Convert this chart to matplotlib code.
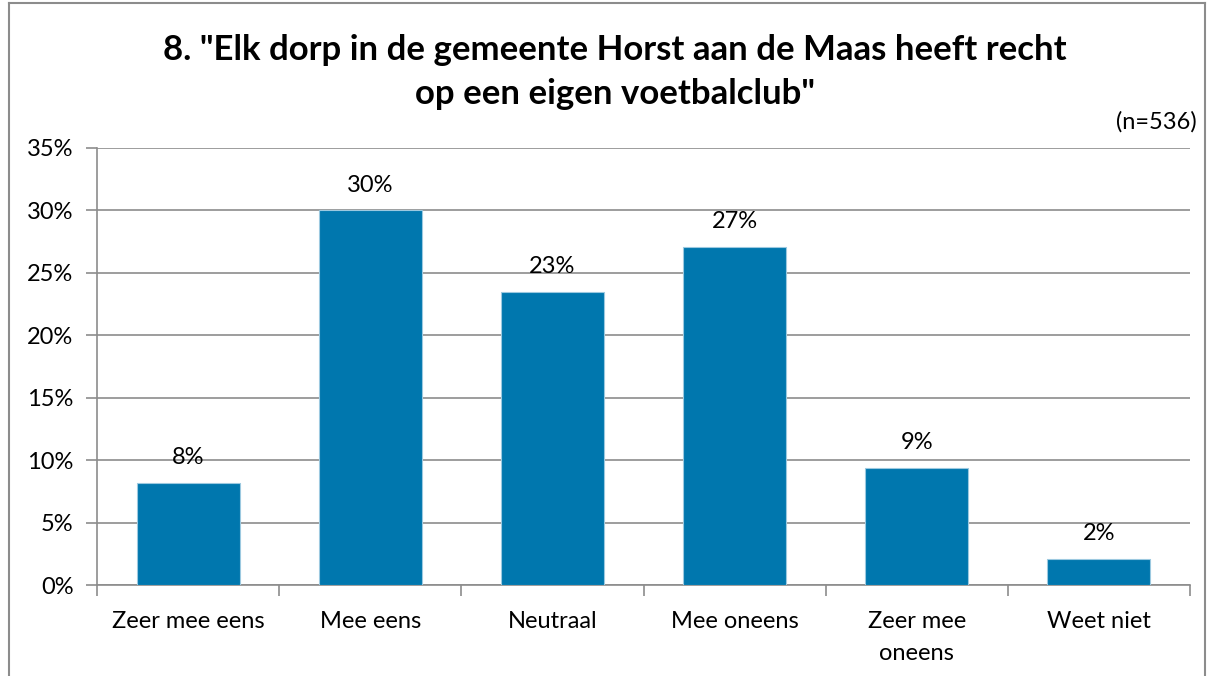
import numpy as np
import matplotlib
matplotlib.use("Agg")
from matplotlib import pyplot as plt
from matplotlib.lines import Line2D

plt.rcParams['font.family'] = ['Lato', 'DejaVu Sans']

categories = ["Zeer mee eens", "Mee eens", "Neutraal", "Mee oneens", "Zeer mee\noneens", "Weet niet"]
values = [8.2, 30.0, 23.5, 27.1, 9.4, 2.1]
labels = ["8%", "30%", "23%", "27%", "9%", "2%"]
title = '8. "Elk dorp in de gemeente Horst aan de Maas heeft recht\nop een eigen voetbalclub"'
note = "(n=536)"

fig = plt.figure(figsize=(12.14, 6.76), dpi=100)
ax = fig.add_axes([97 / 1214, 1 - 585 / 676, (1190 - 97) / 1214, (585 - 148) / 676])

x = np.arange(len(categories))
ax.bar(x, values, width=0.565, color="#0077ae", edgecolor="#9cc9e0", linewidth=0.8, zorder=3)

for xi, v, lab in zip(x, values, labels):
    ax.annotate(lab, (xi, v), xytext=(0, 18), textcoords="offset points",
                ha="center", va="center", fontsize=17, color="black", zorder=4)

ax.set_xlim(-0.5, len(categories) - 0.5)
ax.set_ylim(0, 35)
ax.set_yticks(np.arange(0, 36, 5))
ax.set_yticklabels([f"{t}%" for t in range(0, 36, 5)], fontsize=17)
ax.yaxis.grid(True, color="#8c8c8c", linewidth=1.2, zorder=0)

# category labels between boundary ticks
ax.set_xticks(x)
ax.set_xticklabels(categories, fontsize=17, va="top", linespacing=1.6)
ax.tick_params(axis="x", length=0, pad=19)
ax.set_xticks(np.arange(-0.5, len(categories)), minor=True)
ax.tick_params(axis="x", which="minor", length=8, color="#8c8c8c", width=1.2)
ax.tick_params(axis="y", length=8, color="#8c8c8c", width=1.2, pad=9)

for side in ["top", "right"]:
    ax.spines[side].set_visible(False)
for side in ["left", "bottom"]:
    ax.spines[side].set_color("#8c8c8c")
    ax.spines[side].set_linewidth(1.2)

fig.text(615 / 1214, 1 - 72 / 676, title, ha="center", va="center",
         fontsize=25, fontweight="bold", linespacing=1.45)
fig.text(1197 / 1214, 1 - 122 / 676, note, ha="right", va="center", fontsize=17)

# outer chart frame
for xs, ys in [([9, 9], [3, 676]), ([9, 1205], [3, 3]), ([1205, 1205], [3, 676])]:
    fig.add_artist(Line2D([v / 1214 for v in xs], [1 - v / 676 for v in ys],
                          color="#8c8c8c", linewidth=1.5))

fig.savefig("out.png", dpi=100)
